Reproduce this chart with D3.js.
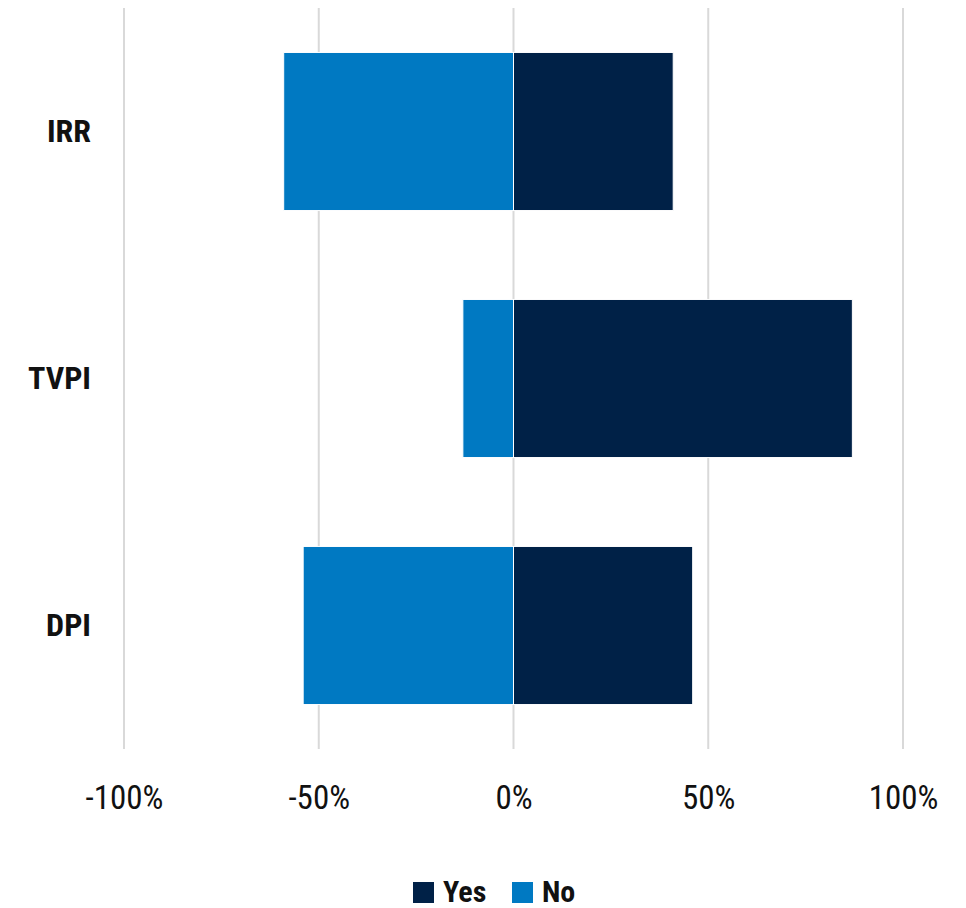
<!DOCTYPE html>
<html>
<head>
<meta charset="utf-8">
<script src="https://cdn.jsdelivr.net/npm/d3@7/dist/d3.min.js"></script>
<style>
  html, body { margin: 0; padding: 0; background: #fff; }
  svg text { font-family: "Liberation Sans Narrow", "Roboto Condensed", "Arial Narrow", sans-serif; fill: #111; }
</style>
</head>
<body>
<svg id="chart" width="966" height="908"></svg>
<script>
// Share of respondents per metric
const categories = ["IRR", "TVPI", "DPI"];
const yesValues = [0.41, 0.87, 0.46];
const noValues = [-0.59, -0.13, -0.54];
const tickValues = [-1, -0.5, 0, 0.5, 1];
const seriesNames = ["Yes", "No"];
const seriesColors = ["#002147", "#0079C2"];

const svg = d3.select("#chart");

const x = d3.scaleLinear().domain([-1, 1]).range([124, 903]);
const y = d3.scaleBand().domain(categories).range([8, 749]).paddingInner(0.36).paddingOuter(0.18);

// vertical gridlines
svg.append("g").selectAll("line").data(tickValues).join("line")
  .attr("x1", d => x(d)).attr("x2", d => x(d))
  .attr("y1", 8).attr("y2", 749)
  .attr("stroke", "#d9d9d9").attr("stroke-width", 2);

// x axis labels (plain hyphen for negatives)
const pct = d3.format(".0%");
const xAxis = d3.axisBottom(x).tickValues(tickValues)
  .tickFormat(d => pct(d).replace("\u2212", "-")).tickSize(0).tickPadding(0);
const gx = svg.append("g").attr("transform", "translate(0,809)").call(xAxis);
gx.select(".domain").remove();
gx.selectAll("text").attr("font-size", 33).attr("dy", 0).attr("fill", "#111");

// category labels
const yAxis = d3.axisLeft(y).tickSize(0).tickPadding(0);
const gy = svg.append("g").attr("transform", "translate(91,0)").call(yAxis);
gy.select(".domain").remove();
gy.selectAll("text").attr("font-size", 32).attr("font-weight", "bold").attr("fill", "#111");

const rows = categories.map((c, i) => ({ c, yes: yesValues[i], no: noValues[i] }));

// "No" bars to the left of zero
svg.append("g").selectAll("rect").data(rows).join("rect")
  .attr("x", d => x(d.no)).attr("width", d => x(0) - x(d.no))
  .attr("y", d => y(d.c)).attr("height", y.bandwidth())
  .attr("fill", seriesColors[1]).attr("stroke", "#fff").attr("stroke-width", 1);

// "Yes" bars to the right of zero
svg.append("g").selectAll("rect").data(rows).join("rect")
  .attr("x", x(0)).attr("width", d => x(d.yes) - x(0))
  .attr("y", d => y(d.c)).attr("height", y.bandwidth())
  .attr("fill", seriesColors[0]).attr("stroke", "#fff").attr("stroke-width", 1);

// legend
const legend = svg.append("g").attr("transform", "translate(413,882)");
const legendOffsets = [0, 99];
seriesNames.forEach((name, i) => {
  const g = legend.append("g").attr("transform", `translate(${legendOffsets[i]},0)`);
  g.append("rect").attr("width", 21).attr("height", 21).attr("fill", seriesColors[i]);
  g.append("text").attr("x", 30).attr("y", 20).attr("font-size", 30).attr("font-weight", "bold").text(name);
});
</script>
</body>
</html>
